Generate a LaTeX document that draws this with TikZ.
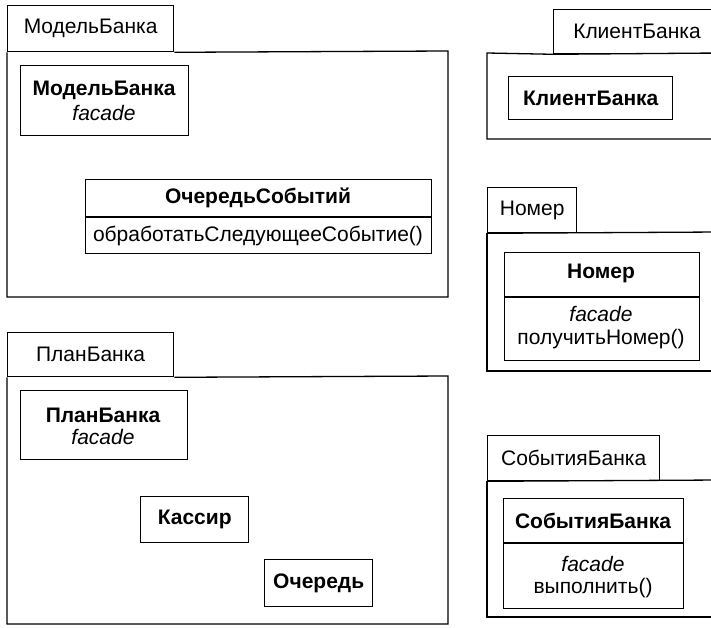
\documentclass[tikz,border=0pt]{standalone}
\usepackage{fontspec}
\setmainfont{Liberation Sans}
\begin{document}
\begin{tikzpicture}[x=1pt,y=-1pt,
  every node/.style={font=\fontsize{21}{24}\selectfont, inner sep=0pt},
  pkgline/.style={line width=1.3pt},
  tab/.style={draw, line width=1.3pt, anchor=north west},
  box/.style={draw, line width=1.4pt, anchor=north west},
  ttl/.style={font=\fontsize{21}{24}\selectfont\bfseries},
  stereo/.style={font=\fontsize{21}{24}\selectfont\itshape}]
\useasboundingbox (0,0) rectangle (711,628);
\clip (0,0) rectangle (711,628);

% ---- package МодельБанка
\node[tab, minimum width=166pt, minimum height=46pt] (pModel) at (7,5) {};
\node at (pModel.center) {МодельБанка};
\draw[pkgline] (pModel.south west) -- (7,297) -- (448,297) -- (448,51) -- (pModel.south east);
\node[box, minimum width=168pt, minimum height=70pt] (cModel) at (20,65) {};
\node[ttl] at (104,90) {МодельБанка};
\node[stereo] at (104,113) {facade};
\node[box, minimum width=346pt, minimum height=74pt] (cQueue) at (85,179) {};
\draw[line width=1.4pt] (85,217) -- (431,217);
\node[ttl] at (258,198) {ОчередьСобытий};
\node at (258,236) {обработатьСледующееСобытие()};

% ---- package ПланБанка
\node[tab, minimum width=166pt, minimum height=44pt] (pPlan) at (7,332) {};
\node at (pPlan.center) {ПланБанка};
\draw[pkgline] (pPlan.south west) -- (7,624) -- (448,624) -- (448,376) -- (pPlan.south east);
\node[box, minimum width=167pt, minimum height=69pt] (cPlan) at (20,390) {};
\node[ttl] at (103,415) {ПланБанка};
\node[stereo] at (103,437) {facade};
\node[box, minimum width=108pt, minimum height=46pt] (cCashier) at (140,496) {};
\node[ttl] at (cCashier.center) {Кассир};
\node[box, minimum width=108pt, minimum height=47pt] (cLine) at (264,559) {};
\node[ttl] at (cLine.center) {Очередь};

% ---- package КлиентБанка
\node[tab, minimum width=200pt, minimum height=44pt] (pClient) at (553,9) {};
\node at (637,31) {КлиентБанка};
\draw[pkgline] (pClient.south west) -- (487,53) -- (487,139) -- (720,139);
\draw[pkgline] (pClient.south west) -- (720,53);
\node[box, minimum width=164pt, minimum height=43pt] (cClient) at (508,76) {};
\node[ttl] at (cClient.center) {КлиентБанка};

% ---- package Номер
\node[tab, minimum width=89pt, minimum height=45pt] (pNum) at (487,187) {};
\node at (pNum.center) {Номер};
\draw[pkgline] (pNum.south west) -- (487,371) -- (720,371);
\draw[pkgline] (pNum.south west) -- (720,232);
\node[box, minimum width=195pt, minimum height=108pt] (cNum) at (504,252) {};
\draw[line width=1.4pt] (504,297) -- (699,297);
\node[ttl] at (601,273) {Номер};
\node[stereo] at (601,314) {facade};
\node at (601,339) {получитьНомер()};

% ---- package СобытияБанка
\node[tab, minimum width=172pt, minimum height=45pt] (pEvents) at (487,435) {};
\node at (pEvents.center) {СобытияБанка};
\draw[pkgline] (pEvents.south west) -- (487,617) -- (720,617);
\draw[pkgline] (pEvents.south west) -- (720,480);
\node[box, minimum width=180pt, minimum height=110pt] (cEvents) at (503,498) {};
\draw[line width=1.4pt] (503,543) -- (683,543);
\node[ttl] at (593,521) {СобытияБанка};
\node[stereo] at (593,564) {facade};
\node at (593,588) {выполнить()};
\end{tikzpicture}
\end{document}
